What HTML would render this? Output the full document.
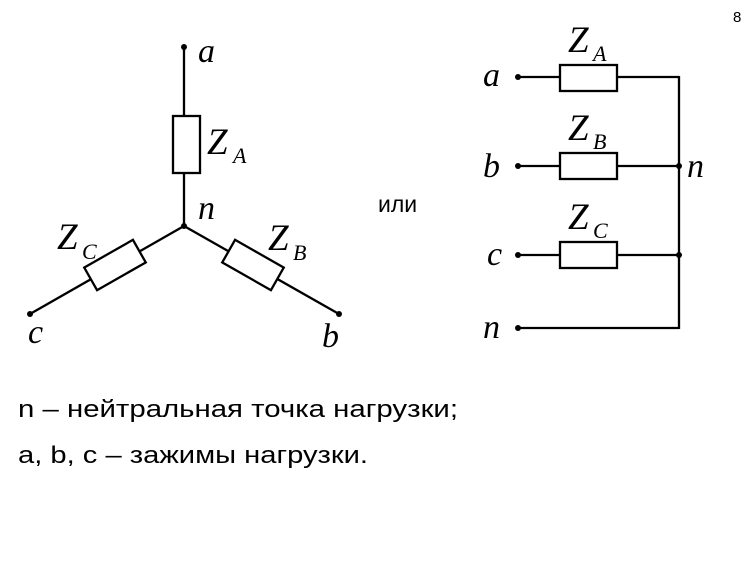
<!DOCTYPE html>
<html><head><meta charset="utf-8"><style>
html,body{margin:0;padding:0;background:#fff;}
svg{display:block;}
.it{font-family:"Liberation Serif",serif;font-style:italic;fill:#000;}
.sn{font-family:"Liberation Sans",sans-serif;fill:#000;}
</style></head><body>
<svg width="750" height="561" viewBox="0 0 750 561" xmlns="http://www.w3.org/2000/svg">
<rect width="750" height="561" fill="#fff"/>
<g stroke="#000" stroke-width="2.3" fill="none">
  <line x1="184" y1="47" x2="184" y2="116"/>
  <rect x="173" y="116" width="27" height="57" fill="#fff"/>
  <line x1="184" y1="173" x2="184" y2="226"/>
  <line x1="184" y1="226" x2="339" y2="314"/>
  <line x1="184" y1="226" x2="30" y2="314"/>
  <rect x="-28" y="-13" width="56" height="26" fill="#fff" transform="translate(253,265) rotate(29.6)"/>
  <rect x="-28" y="-13" width="56" height="26" fill="#fff" transform="translate(115,265) rotate(-29.6)"/>
  <line x1="518" y1="77" x2="679" y2="77"/>
  <line x1="518" y1="166" x2="679" y2="166"/>
  <line x1="518" y1="255" x2="679" y2="255"/>
  <line x1="518" y1="328" x2="679" y2="328"/>
  <line x1="679" y1="76" x2="679" y2="329"/>
  <rect x="560" y="65" width="57" height="26" fill="#fff"/>
  <rect x="560" y="153" width="57" height="26" fill="#fff"/>
  <rect x="560" y="242" width="57" height="26" fill="#fff"/>
</g>
<g fill="#000">
  <circle cx="184" cy="47" r="3"/><circle cx="184" cy="226" r="3"/>
  <circle cx="30" cy="314" r="3"/><circle cx="339" cy="314" r="3"/>
  <circle cx="518" cy="77" r="3"/><circle cx="518" cy="166" r="3"/>
  <circle cx="518" cy="255" r="3"/><circle cx="518" cy="328" r="3"/>
  <circle cx="679" cy="166" r="3"/><circle cx="679" cy="255" r="3"/>
</g>
<g class="it" font-size="34">
  <text x="198" y="62">a</text>
  <text x="207" y="154" font-size="37">Z</text><text x="233" y="163" font-size="22">A</text>
  <text x="198" y="219">n</text>
  <text x="57" y="249" font-size="37">Z</text><text x="82" y="259" font-size="22">C</text>
  <text x="268" y="250" font-size="37">Z</text><text x="293" y="260" font-size="22">B</text>
  <text x="28" y="343">c</text>
  <text x="322" y="347">b</text>
  <text x="483" y="86">a</text>
  <text x="568" y="52" font-size="37">Z</text><text x="593" y="61" font-size="22">A</text>
  <text x="483" y="177">b</text>
  <text x="568" y="140" font-size="37">Z</text><text x="593" y="149" font-size="22">B</text>
  <text x="687" y="177">n</text>
  <text x="487" y="265">c</text>
  <text x="568" y="229" font-size="37">Z</text><text x="593" y="238" font-size="22">C</text>
  <text x="483" y="338">n</text>
</g>
<text class="sn" x="378" y="212" font-size="23">или</text>
<text class="sn" x="733" y="22" font-size="15">8</text>
<text class="sn" x="18" y="417" font-size="24" textLength="440" lengthAdjust="spacingAndGlyphs">n – нейтральная точка нагрузки;</text>
<text class="sn" x="18" y="463" font-size="24" textLength="350" lengthAdjust="spacingAndGlyphs">a, b, c – зажимы нагрузки.</text>
</svg>
</body></html>
